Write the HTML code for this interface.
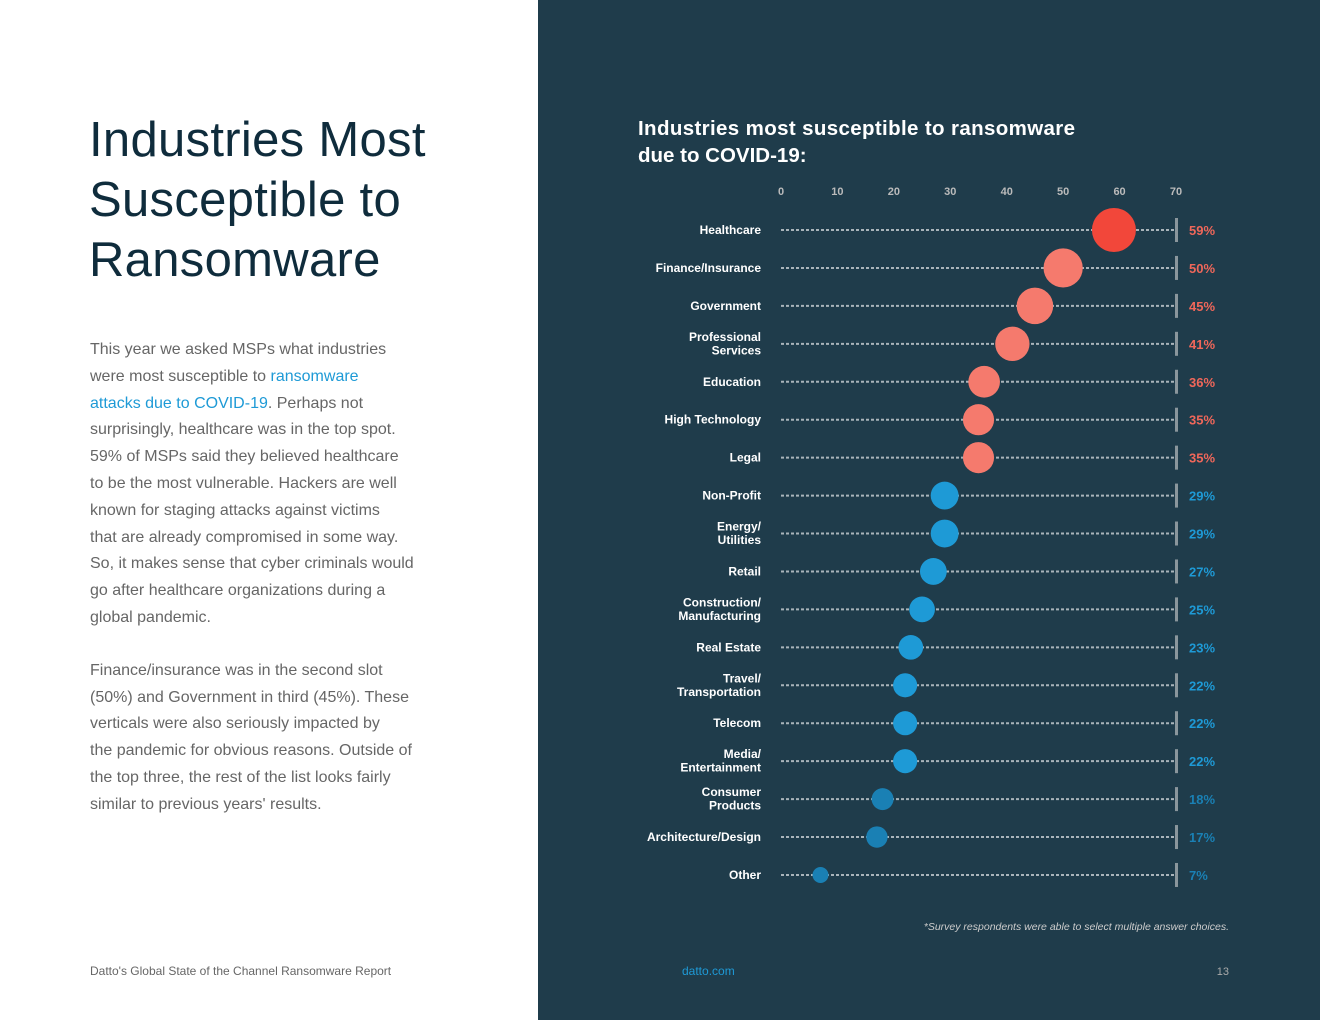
<!DOCTYPE html>
<html><head><meta charset="utf-8"><style>
body{margin:0;width:1320px;height:1020px;position:relative;overflow:hidden;font-family:"Liberation Sans",sans-serif;background:#fff}
.left{position:absolute;left:0;top:0;width:538px;height:1020px;background:#fff}
.right{position:absolute;left:538px;top:0;width:782px;height:1020px;background:#1f3c4b}
h1{position:absolute;left:89px;top:110px;margin:0;font-weight:400;font-size:49px;line-height:60px;color:#0f2c3c;letter-spacing:0.3px}
.body{position:absolute;left:90px;top:337px;width:420px;font-size:16px;line-height:26.8px;color:#666;white-space:nowrap}
.body p{margin:0 0 26px}
.body a{color:#1e9ad6;text-decoration:none}
.foot{position:absolute;top:964px;font-size:12px;color:#666}
</style></head><body>
<div class="left">
<h1>Industries Most<br>Susceptible to<br>Ransomware</h1>
<div class="body">
<p>This year we asked MSPs what industries<br>were most susceptible to <a>ransomware<br>attacks due to COVID-19</a>. Perhaps not<br>surprisingly, healthcare was in the top spot.<br>59% of MSPs said they believed healthcare<br>to be the most vulnerable. Hackers are well<br>known for staging attacks against victims<br>that are already compromised in some way.<br>So, it makes sense that cyber criminals would<br>go after healthcare organizations during a<br>global pandemic.</p>
<p>Finance/insurance was in the second slot<br>(50%) and Government in third (45%). These<br>verticals were also seriously impacted by<br>the pandemic for obvious reasons. Outside of<br>the top three, the rest of the list looks fairly<br>similar to previous years' results.</p>
</div>
<div class="foot" style="left:90px">Datto's Global State of the Channel Ransomware Report</div>
</div>
<div class="right"></div>
<svg id="chart" width="1320" height="1020" style="position:absolute;left:0;top:0">
<text x="638" y="135" font-size="20.5" font-weight="700" fill="#fff" textLength="437">Industries most susceptible to ransomware</text>
<text x="638" y="162" font-size="20.5" font-weight="700" fill="#fff">due to COVID-19:</text>
<text x="1229" y="930" font-size="10.5" font-style="italic" fill="#ccc" text-anchor="end">*Survey respondents were able to select multiple answer choices.</text>
<text x="682" y="975" font-size="12" fill="#1e9ad6">datto.com</text>
<text x="1229" y="975" font-size="11" fill="#aaa" text-anchor="end">13</text>
<g id="g"></g>
</svg>
<script>
const categories=[["Healthcare"],["Finance/Insurance"],["Government"],["Professional","Services"],["Education"],["High Technology"],["Legal"],["Non-Profit"],["Energy/","Utilities"],["Retail"],["Construction/","Manufacturing"],["Real Estate"],["Travel/","Transportation"],["Telecom"],["Media/","Entertainment"],["Consumer","Products"],["Architecture/Design"],["Other"]];
const values=[59,50,45,41,36,35,35,29,29,27,25,23,22,22,22,18,17,7];
const ticks=[0,10,20,30,40,50,60,70];
const NS="http://www.w3.org/2000/svg",g=document.getElementById('g');
const x=v=>781+v*(1176-781)/70, y=i=>230+i*37.94;
function mk(t,a,txt){const e=document.createElementNS(NS,t);for(const k in a)e.setAttribute(k,a[k]);if(txt!=null)e.textContent=txt;g.appendChild(e);return e;}
ticks.forEach(t=>{const e=mk('text',{x:x(t),y:195,'font-size':11,'font-weight':700,fill:'#bbb','text-anchor':'middle'},t);

});
categories.forEach((c,i)=>{const v=values[i],cy=y(i);
const l=mk('line',{x1:x(0),x2:x(70),y1:cy,y2:cy,stroke:'#a9b4ba','stroke-width':2,'stroke-dasharray':'3 2'});


const b=mk('rect',{x:x(70)-1,y:cy-12,width:3,height:24,fill:'#8a969c'});


const lab=mk('text',{x:761,y:cy+(c.length>1?-3:4),'font-size':12,'font-weight':700,fill:'#fff','text-anchor':'end'});
c.forEach((s,k)=>{const ts=document.createElementNS(NS,'tspan');ts.setAttribute('x',761);ts.setAttribute('dy',k?13.5:0);ts.textContent=s;lab.appendChild(ts);});


const red=i<7;const col=i==0?'#f2473a':red?'#f57a6d':(v<20?'#1a80b4':'#1e9ad6');
const r=Math.max(8,Math.min(22,8+(v-7)*0.27));
const d=mk('circle',{cx:x(v),cy:cy,r:r,fill:col});


const p=mk('text',{x:1189,y:cy+5,'font-size':13,'font-weight':700,fill:red?'#f0675a':(v<20?'#1a80b4':'#1e9ad6')},v+'%');


});
</script>
</body></html>
